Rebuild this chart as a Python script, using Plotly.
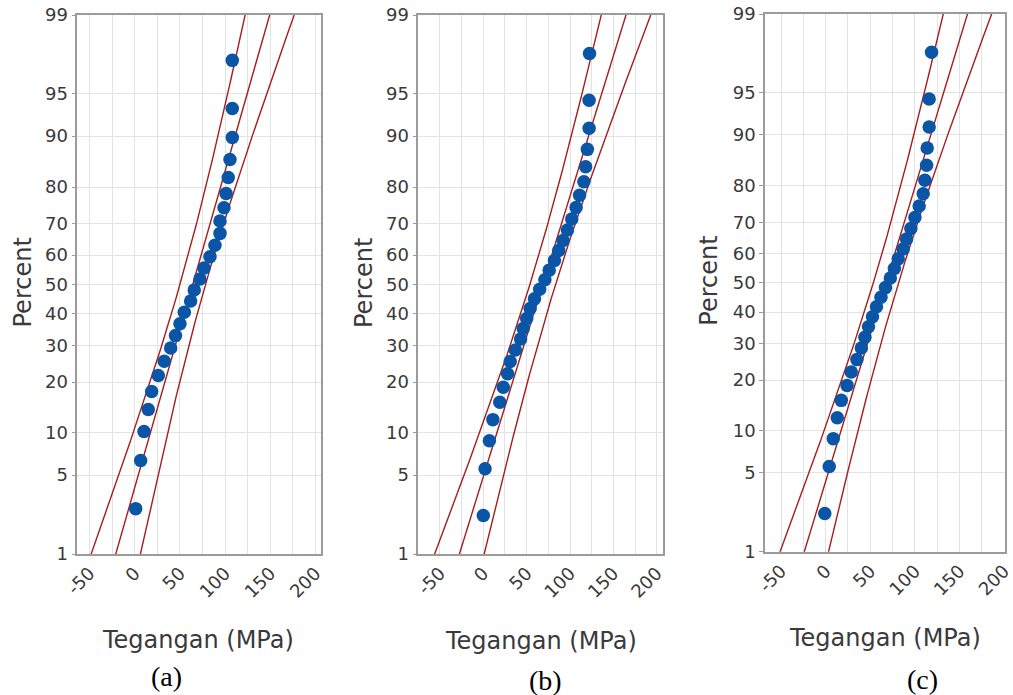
import math
from statistics import NormalDist
import plotly.graph_objects as go

ND = NormalDist()

# ---------------- data ----------------
STRESS_A = [1.1, 6.6, 10.3, 15.0, 18.8, 26.1, 32.7, 39.8, 45.1, 50.1, 54.9, 61.9, 65.9,
            72.2, 76.7, 83.3, 88.8, 94.4, 94.4, 98.8, 101.1, 103.5, 105.4, 108.0, 108.0, 108.0]
STRESS_B = [0.0, 2.0, 7.0, 11.0, 19.0, 23.0, 28.0, 31.0, 37.0, 43.0, 46.0, 50.0, 54.0, 59.0, 65.0,
            71.0, 76.0, 82.0, 87.0, 92.0, 97.0, 102.0, 107.0, 111.0, 116.0, 118.0, 120.0, 122.0, 122.0, 122.5]
STRESS_C = [-1.0, 4.0, 8.5, 13.0, 17.5, 24.0, 28.7, 35.0, 40.0, 44.0, 48.0, 52.5, 57.0, 62.0, 67.0,
            72.5, 77.0, 81.3, 86.9, 90.7, 95.5, 100.0, 104.8, 109.3, 111.2, 113.1, 113.8, 116.0, 116.0, 118.7]
FIT_MEAN = [64.2, 68.5, 67.5]
FIT_STDEV = [36.6, 41.3, 39.3]
PANEL_LABELS = ["(a)", "(b)", "(c)"]
PCT_TICKS = [1, 5, 10, 20, 30, 40, 50, 60, 70, 80, 90, 95, 99]
X_TICKS = [-50, 0, 50, 100, 150, 200]
X_TICK_TEXT = ["-50", "0", "50", "100", "150", "200"]
X_TITLE = "Tegangan (MPa)"
Y_TITLE = "Percent"

# ---------------- layout geometry (pixels in the 1013x695 window) ----------------
W, H = 1013, 695
PLOT_BOXES = [  # left, right, top, bottom
    (77.3, 320.7, 15.0, 554.0),
    (418.3, 663.3, 15.0, 554.0),
    (765.0, 1005.0, 14.0, 551.7),
]
X_RANGES = [[-63.5, 205.8], [-75.0, 207.6], [-68.0, 201.0]]
XTITLE_POS = [(198.3, 640), (540.8, 641), (885.0, 638)]
YTITLE_POS = [(22.5, 283), (364.0, 283), (708.7, 281)]
CAPTION_POS = [(166, 676), (545, 680), (922.5, 679)]


def fx(px):
    return px / W


def fy(py):
    return 1 - py / H


FONT = "DejaVu Sans"
TEXT_COL = "#3a3a3a"
DOT_COL = "#0a55a6"
LINE_COL = "#a51d1d"
GRID_COL = "#e3e3e3"
FRAME_COL = "#9b9b9b"

fig = go.Figure()
zlo, zhi = ND.inv_cdf(0.01), ND.inv_cdf(0.99)
ytick_vals = [ND.inv_cdf(p / 100.0) for p in PCT_TICKS]
ytick_text = [str(p) for p in PCT_TICKS]

datasets = [STRESS_A, STRESS_B, STRESS_C]
zgrid = [-2.5 + i * 0.01 for i in range(501)]

for k, data in enumerate(datasets):
    sfx = "" if k == 0 else str(k + 1)
    xa, ya = "x" + sfx, "y" + sfx
    n = len(data)
    xs = sorted(data)
    # median-rank plotting positions (Minitab default)
    pz = [ND.inv_cdf((i + 1 - 0.3) / (n + 0.4)) for i in range(n)]
    mu, sd = FIT_MEAN[k], FIT_STDEV[k]
    center = [mu + sd * z for z in zgrid]
    half = [1.96 * sd * math.sqrt(1.0 / n + z * z / (2.0 * n)) for z in zgrid]
    for xv in ([c - h for c, h in zip(center, half)], center, [c + h for c, h in zip(center, half)]):
        fig.add_trace(go.Scatter(x=xv, y=zgrid, mode="lines", xaxis=xa, yaxis=ya,
                                 line=dict(color=LINE_COL, width=1.4), hoverinfo="skip"))
    fig.add_trace(go.Scatter(x=xs, y=pz, mode="markers", xaxis=xa, yaxis=ya,
                             marker=dict(color=DOT_COL, size=13.5, line=dict(width=0))))

    l, r, t, b = PLOT_BOXES[k]
    gvals = [v for v in range(-75, 226, 25) if X_RANGES[k][0] - 0.5 <= v <= X_RANGES[k][1] + 0.5]
    gtext = [X_TICK_TEXT[X_TICKS.index(v)] if v in X_TICKS else "" for v in gvals]
    fig.layout["xaxis" + sfx] = dict(
        domain=[fx(l), fx(r)], anchor=ya, range=X_RANGES[k], automargin=False,
        tickmode="array", tickvals=gvals, ticktext=gtext, tickangle=-45,
        ticklabeloverflow="allow",
        tickfont=dict(family=FONT, size=18, color=TEXT_COL),
        showgrid=True, gridcolor=GRID_COL, gridwidth=1, zeroline=False,
        showline=True, linecolor=FRAME_COL, linewidth=1.5, mirror=True,
        ticks="", fixedrange=True,
    )
    fig.layout["yaxis" + sfx] = dict(
        domain=[fy(b), fy(t)], anchor=xa, range=[zlo, zhi], automargin=False,
        tickmode="array", tickvals=ytick_vals, ticktext=ytick_text,
        ticklabeloverflow="allow",
        tickfont=dict(family=FONT, size=18, color=TEXT_COL),
        showgrid=True, gridcolor=GRID_COL, gridwidth=1, zeroline=False,
        showline=True, linecolor=FRAME_COL, linewidth=1.5, mirror=True,
        ticks="outside", ticklen=4, tickcolor=FRAME_COL, fixedrange=True,
    )

    ax, ay = XTITLE_POS[k]
    fig.add_annotation(x=fx(ax), y=fy(ay), xref="paper", yref="paper", text=X_TITLE,
                       showarrow=False, xanchor="center", yanchor="middle",
                       font=dict(family=FONT, size=24, color=TEXT_COL))
    px_, py_ = YTITLE_POS[k]
    fig.add_annotation(x=fx(px_), y=fy(py_), xref="paper", yref="paper", text=Y_TITLE,
                       showarrow=False, xanchor="center", yanchor="middle", textangle=-90,
                       font=dict(family=FONT, size=24, color=TEXT_COL))
    cx, cy = CAPTION_POS[k]
    fig.add_annotation(x=fx(cx), y=fy(cy), xref="paper", yref="paper", text=PANEL_LABELS[k],
                       showarrow=False, xanchor="center", yanchor="middle",
                       font=dict(family="Liberation Serif", size=28, color="#000000"))

fig.update_layout(width=W, height=H, margin=dict(l=0, r=0, t=0, b=0, autoexpand=False),
                  paper_bgcolor="white", plot_bgcolor="white", showlegend=False)
# remove the page's default body margin so the figure fills the window exactly
fig.write_html("out.html", config={"displayModeBar": False},
               post_script="document.body.style.margin='0';")
